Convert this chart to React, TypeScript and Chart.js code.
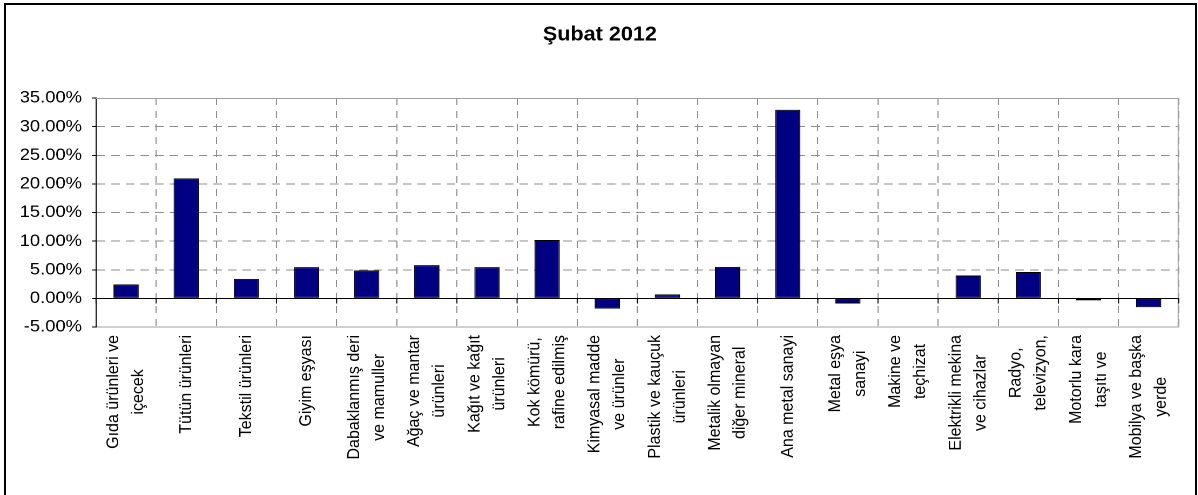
import { useEffect, useRef } from 'react';
import { Chart, registerables } from 'chart.js';

Chart.register(...registerables);

// ---------- data ----------
const chartTitle = 'Şubat 2012';

const categories: string[][] = [
  ['Gıda ürünleri ve', 'içecek'],
  ['Tütün ürünleri'],
  ['Tekstil ürünleri'],
  ['Giyim eşyası'],
  ['Dabaklanmış deri', 've mamuller'],
  ['Ağaç ve mantar', 'ürünleri'],
  ['Kağıt ve kağıt', 'ürünleri'],
  ['Kok kömürü,', 'rafine edilmiş'],
  ['Kimyasal madde', 've ürünler'],
  ['Plastik ve kauçuk', 'ürünleri'],
  ['Metalik olmayan', 'diğer mineral'],
  ['Ana metal sanayi'],
  ['Metal eşya', 'sanayi'],
  ['Makine ve', 'teçhizat'],
  ['Elektrikli mekina', 've cihazlar'],
  ['Radyo,', 'televizyon,'],
  ['Motorlu kara', 'taşıtı ve'],
  ['Mobilya ve başka', 'yerde'],
];

const values: number[] = [
  2.45, 20.95, 3.4, 5.45, 4.9, 5.8, 5.45, 10.2, -1.8,
  0.7, 5.5, 32.95, -0.9, 0, 4.0, 4.6, -0.35, -1.55,
];

const yMin = -5;
const yMax = 35;
const yStep = 5;

// ---------- layout / style ----------
const W = 1198;
const H = 495;
const STRETCH = 1.08; // the reference is slightly stretched horizontally
const CW = W / STRETCH;
const PLOT_LEFT = 96;
const PLOT_RIGHT = 1179;
const PLOT_TOP = 98;
const PLOT_BOTTOM = 327;
const LABEL_TOP = 335;
const PAD_L = 19.4;
const FONT = "'Liberation Sans', Arial, Helvetica, sans-serif";
const X_LABEL_SIZE = 16;
const Y_LABEL_SIZE = 17;
const TITLE_SIZE = 20;
const LINE_H = 23;

const decorPlugin = {
  id: 'decor',
  beforeDatasetsDraw(chart: any) {
    const { ctx, chartArea: a, scales } = chart;
    const x = scales.x;
    const y = scales.y;
    ctx.save();
    ctx.lineWidth = 1;
    ctx.strokeStyle = '#a0a0a0';
    ctx.beginPath();
    ctx.moveTo(a.left, a.top + 0.5);
    ctx.lineTo(a.right, a.top + 0.5);
    ctx.moveTo(a.right - 0.5, a.top);
    ctx.lineTo(a.right - 0.5, a.bottom);
    ctx.stroke();
    const y0 = Math.round(y.getPixelForValue(0)) + 0.5;
    ctx.strokeStyle = '#000';
    ctx.beginPath();
    ctx.moveTo(a.left, y0);
    ctx.lineTo(a.right, y0);
    for (let i = 0; i <= chart.data.labels.length; i++) {
      const px = x.getPixelForValue(i - 0.5);
      ctx.moveTo(px, y0);
      ctx.lineTo(px, y0 + 5);
    }
    ctx.stroke();
    ctx.restore();
  },
  afterDraw(chart: any) {
    const { ctx, scales } = chart;
    const x = scales.x;
    ctx.save();
    ctx.font = `${X_LABEL_SIZE}px ${FONT}`;
    ctx.fillStyle = '#000';
    ctx.textAlign = 'center';
    ctx.textBaseline = 'middle';
    (chart.data.labels as string[][]).forEach((lines, i) => {
      const cx = x.getPixelForValue(i);
      const maxW = Math.max(...lines.map((l) => ctx.measureText(l).width));
      const cy = LABEL_TOP + maxW / 2;
      lines.forEach((line, j) => {
        ctx.save();
        ctx.translate(cx + (j - (lines.length - 1) / 2) * LINE_H, cy);
        ctx.rotate(-Math.PI / 2);
        ctx.fillText(line, 0, 0);
        ctx.restore();
      });
    });
    ctx.restore();
  },
};

export default function App() {
  const canvasRef = useRef<HTMLCanvasElement | null>(null);

  useEffect(() => {
    document.body.style.margin = '0';
    const canvas = canvasRef.current;
    if (!canvas) return;
    const chart = new Chart(canvas, {
      type: 'bar',
      data: {
        labels: categories,
        datasets: [
          {
            data: values,
            backgroundColor: '#000080',
            borderColor: '#000000',
            borderWidth: 1,
            borderSkipped: false,
            barPercentage: 0.42,
            categoryPercentage: 1,
          },
        ],
      },
      options: {
        animation: false,
        responsive: false,
        devicePixelRatio: 2,
        layout: {
          padding: { left: PAD_L, right: CW - PLOT_RIGHT / STRETCH, top: 0, bottom: 0 },
        },
        plugins: {
          legend: { display: false },
          tooltip: { enabled: false },
          title: {
            display: true,
            text: chartTitle,
            color: '#000',
            font: { family: FONT, size: TITLE_SIZE, weight: 'bold', lineHeight: 1.2 },
            padding: { top: 23, bottom: PLOT_TOP - 23 - TITLE_SIZE * 1.2 },
          },
        },
        scales: {
          x: {
            type: 'category',
            offset: true,
            grid: {
              offset: true,
              color: '#8c8c8c',
              lineWidth: 1,
              drawTicks: false,
            },
            border: { display: true, color: '#a0a0a0', dash: [7, 6] },
            ticks: { display: false },
            afterFit: (s: any) => {
              s.height = H - PLOT_BOTTOM;
            },
          },
          y: {
            min: yMin,
            max: yMax,
            grid: {
              color: (c: any) =>
                c.tick && (c.tick.value === 0 || c.tick.value === yMax || c.tick.value === yMin)
                  ? 'rgba(0,0,0,0)'
                  : '#8c8c8c',
              tickColor: '#000',
              tickLength: 3.7,
              lineWidth: 1,
            },
            border: { display: true, color: '#000', width: 1, dash: [8, 5.5] },
            ticks: {
              stepSize: yStep,
              autoSkip: false,
              padding: 9.3,
              color: '#000',
              font: { family: FONT, size: Y_LABEL_SIZE },
              callback: (v: any) => `${Number(v).toFixed(2)}%`,
            },
            afterFit: (s: any) => {
              s.width = PLOT_LEFT / STRETCH - PAD_L;
            },
          },
        },
      },
      plugins: [decorPlugin],
    });
    return () => chart.destroy();
  }, []);

  return (
    <div
      style={{
        position: 'fixed',
        left: 0,
        top: 0,
        width: W,
        height: H,
        overflow: 'hidden',
        background: '#fff',
      }}
    >
      <div
        style={{
          position: 'absolute',
          left: 0,
          top: 0,
          width: CW,
          height: H,
          transform: `scaleX(${STRETCH})`,
          transformOrigin: '0 0',
        }}
      >
        <canvas ref={canvasRef} width={CW} height={H} style={{ display: 'block' }} />
      </div>
      <div
        style={{
          position: 'absolute',
          left: 4,
          top: 3,
          width: 1193,
          height: 600,
          border: '2px solid #000',
          boxSizing: 'border-box',
          pointerEvents: 'none',
        }}
      />
    </div>
  );
}
